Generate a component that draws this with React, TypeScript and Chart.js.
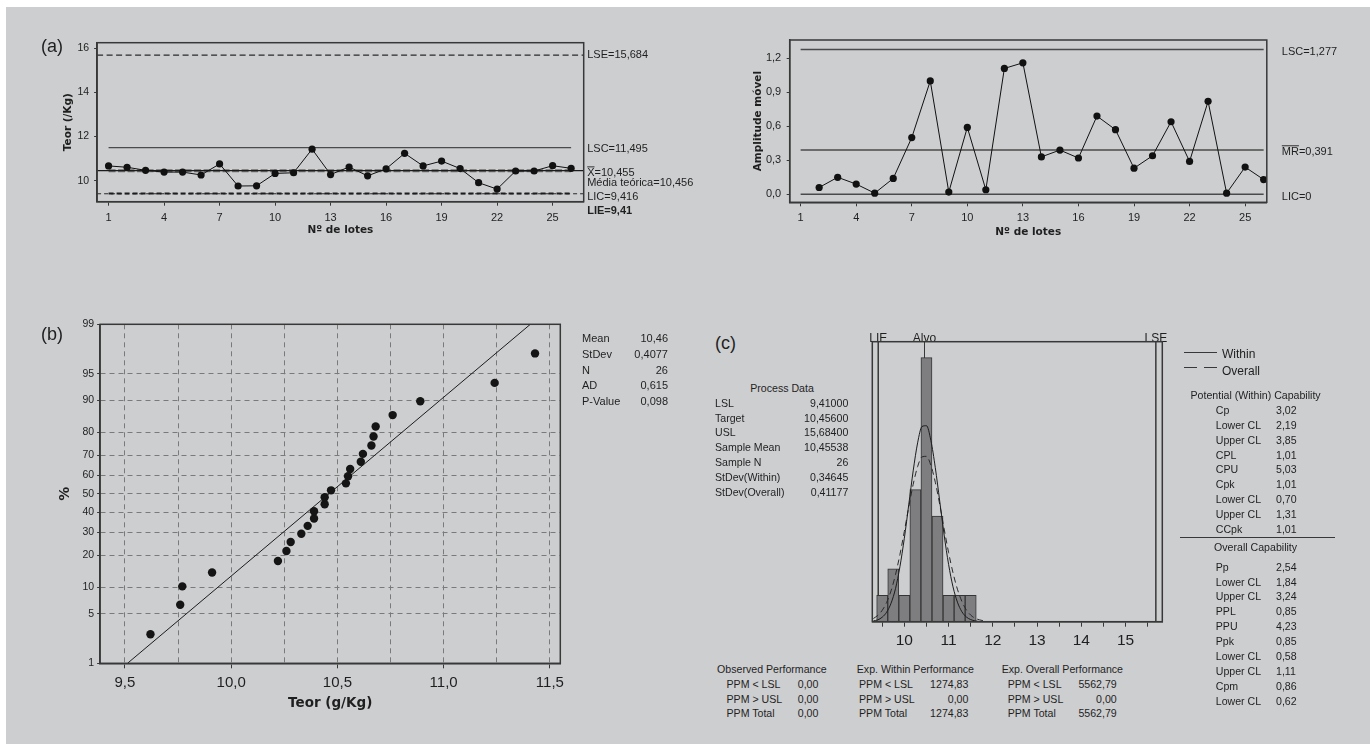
import React, { useEffect, useRef } from 'react';
import { Chart, registerables, Scale } from 'chart.js';

// ---------------- data ----------------
const LOTS = [1, 2, 3, 4, 5, 6, 7, 8, 9, 10, 11, 12, 13, 14, 15, 16, 17, 18, 19, 20, 21, 22, 23, 24, 25, 26];
const TEOR = [10.67, 10.61, 10.47, 10.39, 10.39, 10.26, 10.76, 9.76, 9.77, 10.33, 10.36, 11.43, 10.28, 10.62, 10.22, 10.54, 11.24, 10.67, 10.89, 10.55, 9.91, 9.62, 10.44, 10.44, 10.68, 10.56];
const I_X_TICKS = [1, 4, 7, 10, 13, 16, 19, 22, 25];
const I_Y_TICKS = [10, 12, 14, 16];
const I_LIMIT_VALUES = [15.684, 11.495, 10.455, 10.456, 9.416, 9.41];
const I_LIMIT_TEXT = ['LSE=15,684', 'LSC=11,495', 'X=10,455', 'Média teórica=10,456', 'LIC=9,416', 'LIE=9,41'];

const MR_LOTS = [2, 3, 4, 5, 6, 7, 8, 9, 10, 11, 12, 13, 14, 15, 16, 17, 18, 19, 20, 21, 22, 23, 24, 25, 26];
const MR_VALUES = [0.06, 0.15, 0.09, 0.01, 0.14, 0.5, 1.0, 0.02, 0.59, 0.04, 1.11, 1.16, 0.33, 0.39, 0.32, 0.69, 0.57, 0.23, 0.34, 0.64, 0.29, 0.82, 0.01, 0.24, 0.13];
const MR_Y_TICKS = [0, 0.3, 0.6, 0.9, 1.2];
const MR_LIMIT_VALUES = [1.277, 0.391, 0];
const MR_LIMIT_TEXT = ['LSC=1,277', 'MR=0,391', 'LIC=0'];

const PROB_X = [9.62, 9.76, 9.77, 9.91, 10.22, 10.26, 10.28, 10.33, 10.36, 10.39, 10.39, 10.44, 10.44, 10.47, 10.54, 10.55, 10.56, 10.61, 10.62, 10.66, 10.67, 10.68, 10.76, 10.89, 11.24, 11.43];
const PROB_PCT = [2.7, 6.4, 10.2, 14.0, 17.8, 21.6, 25.4, 29.2, 33.0, 36.7, 40.5, 44.3, 48.1, 51.9, 55.7, 59.5, 63.3, 67.0, 70.8, 74.6, 78.4, 82.2, 86.0, 89.8, 93.6, 97.3];
const PROB_Y_TICKS = [1, 5, 10, 20, 30, 40, 50, 60, 70, 80, 90, 95, 99];
const PROB_X_TICKS = [9.5, 9.75, 10, 10.25, 10.5, 10.75, 11, 11.25, 11.5];
const FIT_X = [9.512, 11.408];
const FIT_PCT = [1, 99];
const PROB_STAT_NAMES = ['Mean', 'StDev', 'N', 'AD', 'P-Value'];
const PROB_STAT_VALUES = ['10,46', '0,4077', '26', '0,615', '0,098'];

const HIST_CENTERS = [9.5, 9.75, 10, 10.25, 10.5, 10.75, 11, 11.25, 11.5];
const HIST_COUNTS = [1, 2, 1, 5, 10, 4, 1, 1, 1];
const CURVE_X = [9.3, 9.4, 9.5, 9.6, 9.7, 9.8, 9.9, 10.0, 10.1, 10.2, 10.3, 10.4, 10.5, 10.6, 10.7, 10.8, 10.9, 11.0, 11.1, 11.2, 11.3, 11.4, 11.5, 11.6, 11.7, 11.8];
const CURVE_WITHIN = [0.03, 0.07, 0.17, 0.36, 0.7, 1.25, 2.08, 3.16, 4.43, 5.71, 6.77, 7.39, 7.42, 6.86, 5.83, 4.56, 3.28, 2.17, 1.32, 0.74, 0.38, 0.18, 0.08, 0.03, 0.01, 0.0];
const CURVE_OVERALL = [0.12, 0.24, 0.43, 0.73, 1.17, 1.78, 2.54, 3.42, 4.34, 5.2, 5.87, 6.24, 6.26, 5.92, 5.28, 4.44, 3.51, 2.62, 1.85, 1.23, 0.77, 0.45, 0.25, 0.13, 0.07, 0.03];
const HIST_X_TICKS = [9.5, 10, 10.5, 11, 11.5, 12, 12.5, 13, 13.5, 14, 14.5, 15, 15.5];
const SPEC_VALUES = [9.41, 10.456, 15.684];
const SPEC_TEXT = ['LIE', 'Alvo', 'LSE'];

const PROCESS_NAMES = ['LSL', 'Target', 'USL', 'Sample Mean', 'Sample N', 'StDev(Within)', 'StDev(Overall)'];
const PROCESS_VALUES = ['9,41000', '10,45600', '15,68400', '10,45538', '26', '0,34645', '0,41177'];
const WITHIN_NAMES = ['Cp', 'Lower CL', 'Upper CL', 'CPL', 'CPU', 'Cpk', 'Lower CL', 'Upper CL', 'CCpk'];
const WITHIN_VALUES = ['3,02', '2,19', '3,85', '1,01', '5,03', '1,01', '0,70', '1,31', '1,01'];
const OVERALL_NAMES = ['Pp', 'Lower CL', 'Upper CL', 'PPL', 'PPU', 'Ppk', 'Lower CL', 'Upper CL', 'Cpm', 'Lower CL'];
const OVERALL_VALUES = ['2,54', '1,84', '3,24', '0,85', '4,23', '0,85', '0,58', '1,11', '0,86', '0,62'];
const PERF_ROWS = ['PPM < LSL', 'PPM > USL', 'PPM Total'];
const OBSERVED_PPM = ['0,00', '0,00', '0,00'];
const EXP_WITHIN_PPM = ['1274,83', '0,00', '1274,83'];
const EXP_OVERALL_PPM = ['5562,79', '0,00', '5562,79'];

// ---------------- style ----------------
const BG = '#cdced0';
const INK = '#1f1f1f';
const AXIS = '#383838';
const SANS = "'Liberation Sans', Arial, sans-serif";
const BOLD_FAMILY = "'DejaVu Sans', Verdana, sans-serif";

// ---------------- normal probability scale ----------------
function normInv(p: number): number {
  const a = [-3.969683028665376e1, 2.209460984245205e2, -2.759285104469687e2, 1.38357751867269e2, -3.066479806614716e1, 2.506628277459239];
  const b = [-5.447609879822406e1, 1.615858368580409e2, -1.556989798598866e2, 6.680131188771972e1, -1.328068155288572e1];
  const c = [-7.784894002430293e-3, -3.223964580411365e-1, -2.400758277161838, -2.549732539343734, 4.374664141464968, 2.938163982698783];
  const d = [7.784695709041462e-3, 3.224671290700398e-1, 2.445134137142996, 3.754408661907416];
  const plow = 0.02425;
  if (p < plow) {
    const q = Math.sqrt(-2 * Math.log(p));
    return (((((c[0] * q + c[1]) * q + c[2]) * q + c[3]) * q + c[4]) * q + c[5]) / ((((d[0] * q + d[1]) * q + d[2]) * q + d[3]) * q + 1);
  }
  if (p <= 1 - plow) {
    const q = p - 0.5;
    const r = q * q;
    return ((((((a[0] * r + a[1]) * r + a[2]) * r + a[3]) * r + a[4]) * r + a[5]) * q) / (((((b[0] * r + b[1]) * r + b[2]) * r + b[3]) * r + b[4]) * r + 1);
  }
  const q = Math.sqrt(-2 * Math.log(1 - p));
  return -(((((c[0] * q + c[1]) * q + c[2]) * q + c[3]) * q + c[4]) * q + c[5]) / ((((d[0] * q + d[1]) * q + d[2]) * q + d[3]) * q + 1);
}
function normCdf(z: number): number {
  const t = 1 / (1 + 0.2316419 * Math.abs(z));
  const dd = 0.3989423 * Math.exp((-z * z) / 2);
  const pr = dd * t * (0.3193815 + t * (-0.3565638 + t * (1.781478 + t * (-1.821256 + t * 1.330274))));
  return z > 0 ? 1 - pr : pr;
}

class ProbitScale extends Scale {
  static id = 'probit';
  static defaults = {};
  zStart: number = 0;
  zEnd: number = 1;
  determineDataLimits() {
    const o: any = this.options;
    (this as any).min = o.min;
    (this as any).max = o.max;
  }
  buildTicks() {
    return [];
  }
  getLabelForValue(v: number) {
    return String(v);
  }
  configure() {
    super.configure();
    this.zStart = normInv((this as any).min / 100);
    this.zEnd = normInv((this as any).max / 100);
  }
  getPixelForValue(v: number) {
    return this.getPixelForDecimal((normInv(v / 100) - this.zStart) / (this.zEnd - this.zStart));
  }
  getValueForPixel(px: number) {
    const dec = this.getDecimalForPixel(px);
    return 100 * normCdf(this.zStart + dec * (this.zEnd - this.zStart));
  }
}

Chart.register(...registerables, ProbitScale as any);

// ---------------- geometry ----------------
type Box = { left: number; top: number; width: number; height: number };
type Area = { l: number; r: number; t: number; b: number };
function fitTo(c: Box, a: Area) {
  return {
    padding: { left: 0, top: a.t - c.top, right: c.left + c.width - a.r, bottom: 0 },
    yWidth: a.l - c.left,
    xHeight: c.top + c.height - a.b,
  };
}
const BOX_A: Box = { left: 40, top: 7, width: 680, height: 240 };
const AREA_A: Area = { l: 97.1, r: 583.7, t: 42.7, b: 201.7 };
const BOX_B: Box = { left: 690, top: 7, width: 680, height: 240 };
const AREA_B: Area = { l: 789.7, r: 1266.8, t: 40, b: 202.3 };
const BOX_C: Box = { left: 34, top: 300, width: 656, height: 440 };
const AREA_C: Area = { l: 100.1, r: 560.3, t: 324.3, b: 663.3 };
const BOX_D: Box = { left: 840, top: 318, width: 360, height: 342 };
const AREA_D: Area = { l: 872.3, r: 1162.3, t: 341.7, b: 621.7 };

const I_X_RANGE = [0.38, 26.68];
const I_Y_RANGE = [9.05, 16.25];
const MR_X_RANGE = [0.41, 26.17];
const MR_Y_RANGE = [-0.0706, 1.361];
const PROB_X_RANGE = [9.383, 11.549];
const HIST_X_RANGE = [9.276, 15.83];
const HIST_Y_RANGE = [0, 10.6];

const comma = (v: number, d: number) => v.toFixed(d).replace('.', ',');

// ---------------- plugins ----------------
const framePlugin = {
  id: 'frame',
  afterDraw(chart: any) {
    const { ctx, chartArea: a } = chart;
    ctx.save();
    ctx.strokeStyle = AXIS;
    ctx.lineWidth = 1.5;
    ctx.strokeRect(a.left, a.top, a.right - a.left, a.bottom - a.top);
    ctx.restore();
  },
};

function limitLabels(values: number[], texts: string[], dy: number[], dx: number, bold: boolean[], overline: number[]) {
  return {
    id: 'limitLabels',
    afterDraw(chart: any) {
      const { ctx, chartArea, scales } = chart;
      ctx.save();
      ctx.fillStyle = INK;
      ctx.strokeStyle = INK;
      ctx.textAlign = 'left';
      ctx.textBaseline = 'middle';
      values.forEach((v, i) => {
        ctx.font = `${bold[i] ? 'bold ' : ''}11px ${SANS}`;
        const x = chartArea.right + dx;
        const y = scales.y.getPixelForValue(v) + dy[i];
        ctx.fillText(texts[i], x, y);
        if (overline[i] > 0) {
          const w = ctx.measureText(texts[i].slice(0, overline[i])).width;
          ctx.lineWidth = 0.9;
          ctx.beginPath();
          ctx.moveTo(x, y - 6.5);
          ctx.lineTo(x + w, y - 6.5);
          ctx.stroke();
        }
      });
      ctx.restore();
    },
  };
}

const specPlugin = {
  id: 'specLines',
  beforeDatasetsDraw(chart: any) {
    const { ctx, chartArea: a, scales } = chart;
    ctx.save();
    ctx.strokeStyle = AXIS;
    SPEC_VALUES.forEach((v, i) => {
      const px = scales.x.getPixelForValue(v);
      ctx.lineWidth = i === 1 ? 1 : 1.5;
      ctx.beginPath();
      ctx.moveTo(px, a.top);
      ctx.lineTo(px, a.bottom);
      ctx.stroke();
    });
    ctx.restore();
  },
  afterDraw(chart: any) {
    const { ctx, chartArea: a, scales } = chart;
    ctx.save();
    ctx.fillStyle = INK;
    ctx.font = `12px ${SANS}`;
    ctx.textAlign = 'center';
    ctx.textBaseline = 'alphabetic';
    SPEC_VALUES.forEach((v, i) => {
      ctx.fillText(SPEC_TEXT[i], scales.x.getPixelForValue(v), a.top + 0.5);
    });
    ctx.restore();
  },
};

const tickFont = (size: number) => ({ family: SANS, size });
const titleFont = (size: number) => ({ family: BOLD_FAMILY, size, weight: 'bold' as const });

// ---------------- chart builders ----------------
function buildI() {
  const g = fitTo(BOX_A, AREA_A);
  const full = (v: number) => [{ x: I_X_RANGE[0], y: v }, { x: I_X_RANGE[1], y: v }];
  const span = (v: number) => [{ x: LOTS[0], y: v }, { x: LOTS[LOTS.length - 1], y: v }];
  const ref = (data: any, color: string, width: number, dash: number[]) => ({ data, borderColor: color, borderWidth: width, borderDash: dash, pointRadius: 0, fill: false, tension: 0 });
  return {
    type: 'line',
    data: {
      datasets: [
        { data: LOTS.map((x, i) => ({ x, y: TEOR[i] })), borderColor: '#111', borderWidth: 1, pointRadius: 3.6, pointBackgroundColor: '#111', pointBorderWidth: 0, fill: false, tension: 0 },
        ref(full(I_LIMIT_VALUES[2]), '#1c1c1c', 1.2, []),
        ref(span(I_LIMIT_VALUES[3]), '#6d6d6d', 3, [7, 2.5]),
        ref(span(I_LIMIT_VALUES[1]), '#2a2a2a', 1, []),
        ref(full(I_LIMIT_VALUES[0]), '#2a2a2a', 1.2, [6, 3.5]),
        ref(span(I_LIMIT_VALUES[4]), '#1c1c1c', 2, [5, 3]),
        ref(full(I_LIMIT_VALUES[5]), '#2a2a2a', 1, [4, 3]),
      ],
    },
    options: {
      responsive: false,
      animation: false,
      events: [],
      layout: { padding: g.padding },
      plugins: { legend: { display: false }, tooltip: { enabled: false } },
      scales: {
        x: {
          type: 'linear', min: I_X_RANGE[0], max: I_X_RANGE[1],
          afterBuildTicks: (s: any) => { s.ticks = I_X_TICKS.map((value) => ({ value })); },
          afterFit: (s: any) => { s.height = g.xHeight; },
          ticks: { autoSkip: false, maxRotation: 0, color: INK, font: tickFont(11), padding: 6, callback: (v: number) => String(v) },
          grid: { drawOnChartArea: false, tickLength: 4, color: AXIS },
          border: { color: AXIS, width: 1.5 },
          title: { display: true, text: 'Nº de lotes', color: INK, font: titleFont(10.5), padding: { top: 0, bottom: 16.3 - 6.3 } },
        },
        y: {
          type: 'linear', min: I_Y_RANGE[0], max: I_Y_RANGE[1],
          afterBuildTicks: (s: any) => { s.ticks = I_Y_TICKS.map((value) => ({ value })); },
          afterFit: (s: any) => { s.width = g.yWidth; },
          ticks: { color: INK, font: tickFont(10.5), padding: 5, callback: (v: number) => String(v) },
          grid: { drawOnChartArea: false, tickLength: 3, color: AXIS },
          border: { color: AXIS, width: 1.5 },
          title: { display: true, text: 'Teor (/Kg)', color: INK, font: titleFont(10.5), padding: { top: 67.8 - BOX_A.left - 6.3, bottom: 0 } },
        },
      },
    },
    plugins: [framePlugin, limitLabels(I_LIMIT_VALUES, I_LIMIT_TEXT, [0, 1.5, 2.7, 12, 3, 16.8], 3.5, [false, false, false, false, false, true], [0, 0, 1, 0, 0, 0])],
  };
}

function buildMR() {
  const g = fitTo(BOX_B, AREA_B);
  const span = (v: number) => [{ x: LOTS[0], y: v }, { x: LOTS[LOTS.length - 1], y: v }];
  const ref = (v: number) => ({ data: span(v), borderColor: '#4a4a4a', borderWidth: 1.5, pointRadius: 0, fill: false, tension: 0 });
  return {
    type: 'line',
    data: {
      datasets: [
        { data: MR_LOTS.map((x, i) => ({ x, y: MR_VALUES[i] })), borderColor: '#111', borderWidth: 1, pointRadius: 3.6, pointBackgroundColor: '#111', pointBorderWidth: 0, fill: false, tension: 0 },
        ref(MR_LIMIT_VALUES[0]),
        ref(MR_LIMIT_VALUES[1]),
        ref(MR_LIMIT_VALUES[2]),
      ],
    },
    options: {
      responsive: false,
      animation: false,
      events: [],
      layout: { padding: g.padding },
      plugins: { legend: { display: false }, tooltip: { enabled: false } },
      scales: {
        x: {
          type: 'linear', min: MR_X_RANGE[0], max: MR_X_RANGE[1],
          afterBuildTicks: (s: any) => { s.ticks = I_X_TICKS.map((value) => ({ value })); },
          afterFit: (s: any) => { s.height = g.xHeight; },
          ticks: { autoSkip: false, maxRotation: 0, color: INK, font: tickFont(11), padding: 5, callback: (v: number) => String(v) },
          grid: { drawOnChartArea: false, tickLength: 4, color: AXIS },
          border: { color: AXIS, width: 1.5 },
          title: { display: true, text: 'Nº de lotes', color: INK, font: titleFont(10.5), padding: { top: 0, bottom: 15 - 6.3 } },
        },
        y: {
          type: 'linear', min: MR_Y_RANGE[0], max: MR_Y_RANGE[1],
          afterBuildTicks: (s: any) => { s.ticks = MR_Y_TICKS.map((value) => ({ value })); },
          afterFit: (s: any) => { s.width = g.yWidth; },
          ticks: { color: INK, font: tickFont(11), padding: 5.5, callback: (v: number) => comma(v, 1) },
          grid: { drawOnChartArea: false, tickLength: 3, color: AXIS },
          border: { color: AXIS, width: 1.5 },
          title: { display: true, text: 'Amplitude móvel', color: INK, font: titleFont(10.5), padding: { top: 758.5 - BOX_B.left - 6.3, bottom: 0 } },
        },
      },
    },
    plugins: [framePlugin, limitLabels(MR_LIMIT_VALUES, MR_LIMIT_TEXT, [2.7, 2.3, 2.4], 15, [false, false, false], [0, 2, 0])],
  };
}

function buildProb() {
  const g = fitTo(BOX_C, AREA_C);
  const isMajor = (v: number) => Math.round(v * 100) % 50 === 0;
  return {
    type: 'scatter',
    data: {
      datasets: [
        { type: 'scatter', data: PROB_X.map((x, i) => ({ x, y: PROB_PCT[i] })), pointRadius: 4.2, backgroundColor: '#151515', borderWidth: 0 },
        { type: 'line', data: FIT_X.map((x, i) => ({ x, y: FIT_PCT[i] })), borderColor: '#1c1c1c', borderWidth: 1, pointRadius: 0, fill: false, showLine: true },
      ],
    },
    options: {
      responsive: false,
      animation: false,
      events: [],
      layout: { padding: g.padding },
      plugins: { legend: { display: false }, tooltip: { enabled: false } },
      scales: {
        x: {
          type: 'linear', min: PROB_X_RANGE[0], max: PROB_X_RANGE[1],
          afterBuildTicks: (s: any) => { s.ticks = PROB_X_TICKS.map((value) => ({ value })); },
          afterFit: (s: any) => { s.height = g.xHeight; },
          ticks: { autoSkip: false, maxRotation: 0, color: INK, font: tickFont(15), padding: 6, callback: (v: number) => (isMajor(v) ? comma(v, 1) : '') },
          grid: { drawOnChartArea: true, tickLength: 5, color: '#7a7a7a', lineWidth: 1, tickColor: (c: any) => (c.tick && isMajor(c.tick.value) ? AXIS : 'rgba(0,0,0,0)') },
          border: { color: AXIS, width: 1.5, dash: [5, 4] },
          title: { display: true, text: 'Teor (g/Kg)', color: INK, font: titleFont(13.5), padding: { top: 0, bottom: 36.7 - 8.1 } },
        },
        y: {
          type: 'probit', min: 1, max: 99,
          afterBuildTicks: (s: any) => { s.ticks = PROB_Y_TICKS.map((value) => ({ value })); },
          afterFit: (s: any) => { s.width = g.yWidth; },
          ticks: { autoSkip: false, color: INK, font: tickFont(10.5), padding: 3, callback: (v: number) => String(v) },
          grid: { drawOnChartArea: true, tickLength: 3, color: '#7a7a7a', lineWidth: 1, tickColor: AXIS },
          border: { color: AXIS, width: 1.5, dash: [5, 4] },
          title: { display: true, text: '%', color: INK, font: titleFont(14), padding: { top: 65.7 - BOX_C.left - 8.4, bottom: 0 } },
        },
      },
    },
    plugins: [framePlugin],
  };
}

function buildHist() {
  const g = fitTo(BOX_D, AREA_D);
  return {
    type: 'bar',
    data: {
      datasets: [
        { type: 'line', data: CURVE_X.map((x, i) => ({ x, y: CURVE_WITHIN[i] })), borderColor: '#1c1c1c', borderWidth: 1, pointRadius: 0, fill: false, cubicInterpolationMode: 'monotone' },
        { type: 'line', data: CURVE_X.map((x, i) => ({ x, y: CURVE_OVERALL[i] })), borderColor: '#2a2a2a', borderWidth: 1, borderDash: [6, 4], pointRadius: 0, fill: false, cubicInterpolationMode: 'monotone' },
        { type: 'bar', data: HIST_CENTERS.map((x, i) => ({ x, y: HIST_COUNTS[i] })), backgroundColor: '#7e7e81', borderColor: '#353535', borderWidth: 1, barPercentage: 1, categoryPercentage: 1, grouped: false },
      ],
    },
    options: {
      responsive: false,
      animation: false,
      events: [],
      layout: { padding: { left: AREA_D.l - BOX_D.left, top: g.padding.top, right: g.padding.right, bottom: 0 } },
      plugins: { legend: { display: false }, tooltip: { enabled: false } },
      scales: {
        x: {
          type: 'linear', min: HIST_X_RANGE[0], max: HIST_X_RANGE[1], offset: false,
          afterBuildTicks: (s: any) => { s.ticks = HIST_X_TICKS.map((value) => ({ value })); },
          afterFit: (s: any) => { s.height = g.xHeight; },
          ticks: { autoSkip: false, maxRotation: 0, color: INK, font: tickFont(15.5), padding: 4.5, callback: (v: number) => (Number.isInteger(v) ? String(v) : '') },
          grid: { drawOnChartArea: false, offset: false, tickLength: 5, color: AXIS },
          border: { color: AXIS, width: 1.5 },
        },
        y: { display: false, min: HIST_Y_RANGE[0], max: HIST_Y_RANGE[1] },
      },
    },
    plugins: [specPlugin, framePlugin],
  };
}

// ---------------- components ----------------
function ChartCanvas({ box, build }: { box: Box; build: () => any }) {
  const ref = useRef<HTMLCanvasElement | null>(null);
  useEffect(() => {
    if (!ref.current) return;
    const chart = new Chart(ref.current, build());
    return () => chart.destroy();
  }, []);
  return (
    <canvas
      ref={ref}
      width={box.width}
      height={box.height}
      style={{ position: 'absolute', left: box.left, top: box.top, width: box.width, height: box.height }}
    />
  );
}

type TxtProps = { x: number; y: number; text: string; align?: 'left' | 'right' | 'center'; size?: number; bold?: boolean };
function Txt({ x, y, text, align = 'left', size = 10.6, bold = false }: TxtProps) {
  const tx = align === 'left' ? '0' : align === 'right' ? '-100%' : '-50%';
  return (
    <div
      style={{
        position: 'absolute', left: x, top: y, transform: `translate(${tx}, -50%)`,
        fontFamily: SANS, fontSize: size, fontWeight: bold ? 'bold' : 'normal',
        color: INK, whiteSpace: 'nowrap', lineHeight: 1,
      }}
    >
      {text}
    </div>
  );
}

function Rule({ x, y, w, dashed = false }: { x: number; y: number; w: number; dashed?: boolean }) {
  return <div style={{ position: 'absolute', left: x, top: y, width: w, height: 0, borderTop: `1.5px ${dashed ? 'dashed' : 'solid'} ${AXIS}` }} />;
}

export default function App() {
  return (
    <div style={{ position: 'absolute', left: 0, top: 0, width: 1370, height: 744, background: '#ffffff', overflow: 'hidden' }}>
      <div style={{ position: 'absolute', left: 6, top: 7, right: 0, bottom: 0, background: BG }} />
      <ChartCanvas box={BOX_A} build={buildI} />
      <ChartCanvas box={BOX_B} build={buildMR} />
      <ChartCanvas box={BOX_C} build={buildProb} />
      <ChartCanvas box={BOX_D} build={buildHist} />

      <Txt x={41} y={46} text="(a)" size={18} />
      <Txt x={41} y={334} text="(b)" size={18} />
      <Txt x={715} y={343} text="(c)" size={18} />

      {PROB_STAT_NAMES.map((n, i) => (
        <React.Fragment key={'ps' + i}>
          <Txt x={582} y={338.3 + i * 15.6} text={n} size={11} />
          <Txt x={668} y={338.3 + i * 15.6} text={PROB_STAT_VALUES[i]} size={11} align="right" />
        </React.Fragment>
      ))}

      <Txt x={782} y={388} text="Process Data" align="center" />
      {PROCESS_NAMES.map((n, i) => (
        <React.Fragment key={'pd' + i}>
          <Txt x={715} y={402.7 + i * 14.87} text={n} />
          <Txt x={848.3} y={402.7 + i * 14.87} text={PROCESS_VALUES[i]} align="right" />
        </React.Fragment>
      ))}

      <Rule x={1184} y={352} w={33} />
      <Rule x={1184} y={367} w={13} />
      <Rule x={1204} y={367} w={13} />
      <Txt x={1222} y={354.3} text="Within" size={12} />
      <Txt x={1222} y={370.7} text="Overall" size={12} />

      <Txt x={1255.6} y={395} text="Potential (Within) Capability" align="center" />
      {WITHIN_NAMES.map((n, i) => (
        <React.Fragment key={'wc' + i}>
          <Txt x={1215.8} y={410 + i * 14.87} text={n} />
          <Txt x={1276} y={410 + i * 14.87} text={WITHIN_VALUES[i]} />
        </React.Fragment>
      ))}
      <Rule x={1179.5} y={536.5} w={155} />
      <Txt x={1255.6} y={547.3} text="Overall Capability" align="center" />
      {OVERALL_NAMES.map((n, i) => (
        <React.Fragment key={'oc' + i}>
          <Txt x={1215.8} y={566.7 + i * 14.87} text={n} />
          <Txt x={1276} y={566.7 + i * 14.87} text={OVERALL_VALUES[i]} />
        </React.Fragment>
      ))}

      <Txt x={717.1} y={669} text="Observed Performance" />
      <Txt x={856.8} y={669} text="Exp. Within Performance" />
      <Txt x={1001.7} y={669} text="Exp. Overall Performance" />
      {PERF_ROWS.map((n, i) => (
        <React.Fragment key={'pf' + i}>
          <Txt x={726.5} y={683.7 + i * 14.8} text={n} />
          <Txt x={818.4} y={683.7 + i * 14.8} text={OBSERVED_PPM[i]} align="right" />
          <Txt x={859} y={683.7 + i * 14.8} text={n} />
          <Txt x={968.4} y={683.7 + i * 14.8} text={EXP_WITHIN_PPM[i]} align="right" />
          <Txt x={1007.7} y={683.7 + i * 14.8} text={n} />
          <Txt x={1116.7} y={683.7 + i * 14.8} text={EXP_OVERALL_PPM[i]} align="right" />
        </React.Fragment>
      ))}
    </div>
  );
}
